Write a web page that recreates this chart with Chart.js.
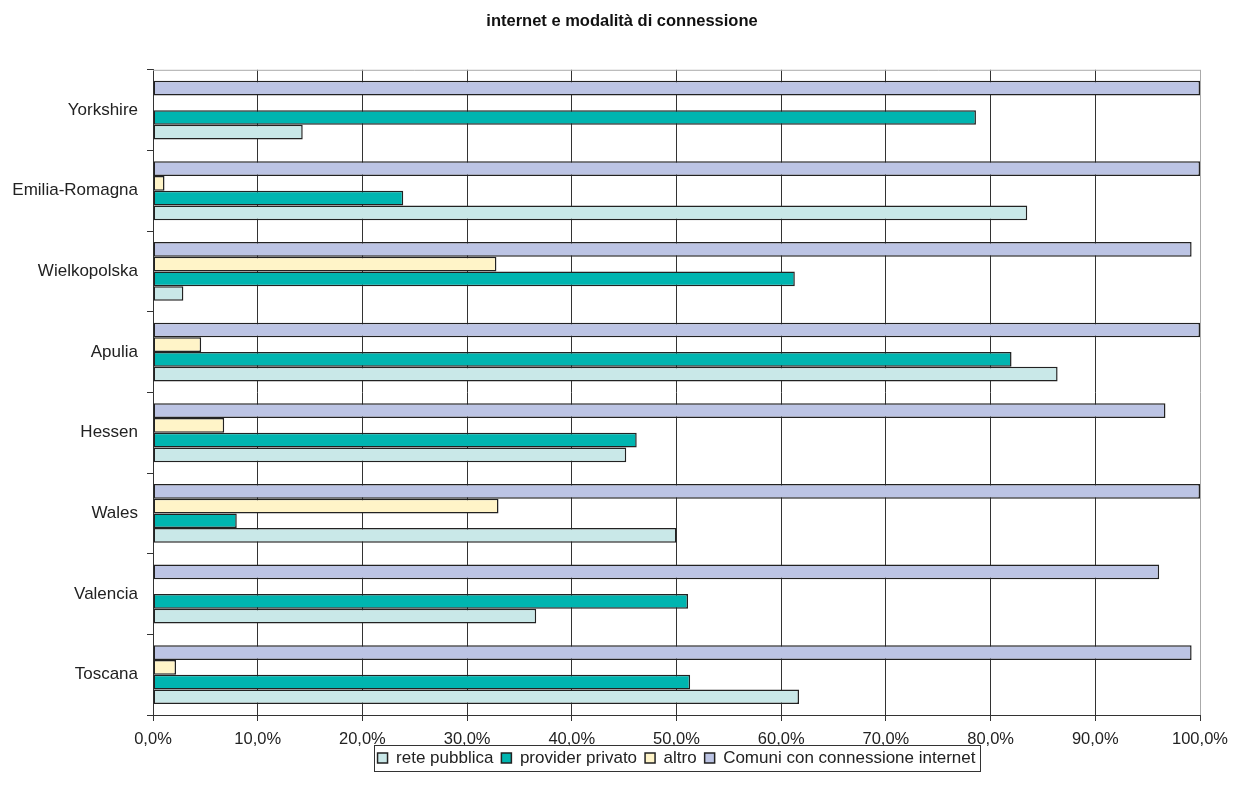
<!DOCTYPE html>
<html>
<head>
<meta charset="utf-8">
<script src="https://cdn.jsdelivr.net/npm/chart.js@4"></script>
<style>
  body { margin: 0; background: #fff; }
  canvas { display: block; }
</style>
</head>
<body>
<canvas id="myChart" width="1239" height="799"></canvas>
<script>
var regioni = ["Yorkshire", "Emilia-Romagna", "Wielkopolska", "Apulia", "Hessen", "Wales", "Valencia", "Toscana"];

// percentuali per regione
var comuniConnessi = [100, 100, 99.2, 100, 96.7, 100, 96.1, 99.2];
var altro = [0, 1.1, 32.8, 4.6, 6.8, 33.0, 0, 2.2];
var providerPrivato = [78.6, 23.9, 61.3, 82.0, 46.2, 8.0, 51.1, 51.3];
var retePubblica = [14.3, 83.5, 2.9, 86.4, 45.2, 50.0, 36.6, 61.7];

var tickPercentuali = [0, 10, 20, 30, 40, 50, 60, 70, 80, 90, 100];

Chart.defaults.font.family = "'Liberation Sans', Arial, sans-serif";
Chart.defaults.color = '#222';

// gli assi sono stretti: le etichette non vanno ritagliate al box della scala
function noClip(scale) {
    scale._computeLabelArea = function () { return undefined; };
}

// cornice attorno alla legenda e bordo grigio in alto
var cornice = {
    id: 'cornice',
    afterDraw: function (chart) {
        var c = chart.ctx, a = chart.chartArea;
        c.save();
        c.strokeStyle = '#aaa';
        c.lineWidth = 1;
        c.beginPath();
        c.moveTo(a.left, a.top + 0.5);
        c.lineTo(a.right, a.top + 0.5);
        c.stroke();

        var boxes = chart.legend.legendHitBoxes;
        if (boxes && boxes.length) {
            var l = Math.min.apply(null, boxes.map(function (b) { return b.left; }));
            var r = Math.max.apply(null, boxes.map(function (b) { return b.left + b.width; }));
            var t = boxes[0].top;
            c.strokeStyle = '#333';
            c.strokeRect(Math.round(l - 4) + 0.5, Math.round(t - 5) + 0.5, Math.round(r - l + 8), Math.round(boxes[0].height + 9));
        }
        c.restore();
    }
};

var ctx = document.getElementById('myChart').getContext('2d');
var chart = new Chart(ctx, {
    type: 'bar',
    data: {
        labels: regioni,
        datasets: [{
            label: "Comuni con connessione internet",
            data: comuniConnessi,
            backgroundColor: '#bcc4e4'
        }, {
            label: "altro",
            data: altro,
            backgroundColor: '#fff4c8'
        }, {
            label: "provider privato",
            data: providerPrivato,
            backgroundColor: '#00b5b0'
        }, {
            label: "rete pubblica",
            data: retePubblica,
            backgroundColor: '#c9e8e8'
        }]
    },
    options: {
        indexAxis: 'y',
        responsive: false,
        animation: false,
        datasets: {
            bar: {
                borderColor: '#222',
                borderWidth: 1.5,
                borderSkipped: false,
                categoryPercentage: 0.73,
                barPercentage: 1
            }
        },
        layout: {
            padding: { top: 0, right: 39, bottom: 22.5, left: 44 }
        },
        scales: {
            x: {
                min: 0,
                max: 100,
                afterBuildTicks: function (scale) {
                    scale.ticks = tickPercentuali.map(function (v) { return { value: v }; });
                },
                afterFit: function (scale) {
                    scale.height = 26.5;
                    noClip(scale);
                },
                ticks: {
                    font: { size: 16.5 },
                    padding: 9,
                    callback: function (v) { return v.toFixed(1).replace('.', ',') + '%'; }
                },
                grid: {
                    color: function (c) { return c.tick && c.tick.value === 100 ? '#aaa' : '#333'; },
                    tickColor: '#333',
                    tickLength: 6,
                    lineWidth: 1
                },
                border: { color: '#333', width: 1 }
            },
            y: {
                afterFit: function (scale) {
                    scale.width = 109;
                    noClip(scale);
                },
                ticks: {
                    font: { size: 17 },
                    padding: 9
                },
                grid: {
                    offset: true,
                    drawOnChartArea: false,
                    tickColor: '#333',
                    tickLength: 6
                },
                border: { color: '#333', width: 1 }
            }
        },
        plugins: {
            title: {
                display: true,
                text: "internet e modalità di connessione",
                font: { size: 16.5, weight: 'bold' },
                color: '#111',
                padding: { top: 12, bottom: 38 }
            },
            legend: {
                position: 'bottom',
                fullSize: false,
                reverse: true,
                labels: {
                    boxWidth: 10,
                    boxHeight: 10,
                    padding: 8,
                    font: { size: 17 },
                    color: '#222'
                }
            },
            tooltip: { enabled: false }
        }
    },
    plugins: [cornice]
});
</script>
</body>
</html>
